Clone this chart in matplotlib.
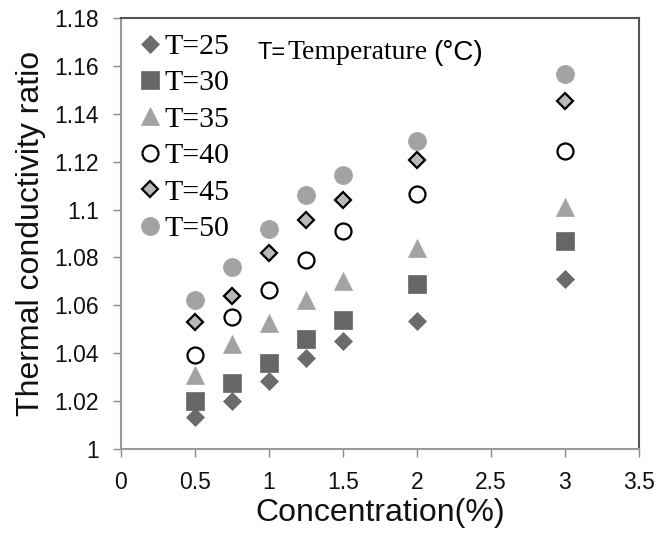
import numpy as np
import matplotlib
matplotlib.use("Agg")
import matplotlib.pyplot as plt
from matplotlib.ticker import FuncFormatter

# datos
conc = [0.5, 0.75, 1.0, 1.25, 1.5, 2.0, 3.0]
t25 = [1.0134, 1.020, 1.0284, 1.038, 1.045, 1.0535, 1.071]
t30 = [1.020, 1.0276, 1.036, 1.046, 1.054, 1.069, 1.087]
t35 = [1.031, 1.044, 1.0526, 1.062, 1.070, 1.084, 1.101]
t40 = [1.039, 1.055, 1.0664, 1.079, 1.091, 1.1065, 1.1245]
t45 = [1.053, 1.064, 1.082, 1.0957, 1.104, 1.1207, 1.1454]
t50 = [1.062, 1.076, 1.092, 1.106, 1.1145, 1.1287, 1.1566]
etiquetas = ["T=25", "T=30", "T=35", "T=40", "T=45", "T=50"]

series = [t25, t30, t35, t40, t45, t50]
estilos = [
    dict(marker="D", ms=9, mfc="#6b6b6b", mec="#6b6b6b", mew=0.5),
    dict(marker="s", ms=12.5, mfc="#666666", mec="#666666", mew=0.5),
    dict(marker="^", ms=13, mfc="#a3a3a3", mec="#a3a3a3", mew=0.5),
    dict(marker="o", ms=11.5, mfc="white", mec="black", mew=1.6),
    dict(marker="D", ms=8.5, mfc="#b8b8b8", mec="black", mew=1.6),
    dict(marker="o", ms=13, mfc="#a3a3a3", mec="#a3a3a3", mew=0.5),
]

fig = plt.figure(figsize=(6.64, 5.33), dpi=100)
ax = fig.add_axes([0.182, 0.158, 0.780, 0.808])

for y, lab, st in zip(series, etiquetas, estilos):
    ax.plot(conc, y, linestyle="none", label=lab, **st)

ax.set_xlim(0, 3.5)
ax.set_ylim(1.0, 1.18)
ax.set_xticks(np.arange(0, 3.51, 0.5))
ax.set_yticks(np.arange(1.0, 1.181, 0.02))
ax.xaxis.set_major_formatter(FuncFormatter(lambda v, p: "%g" % round(v, 2)))
ax.yaxis.set_major_formatter(FuncFormatter(lambda v, p: "%g" % round(v, 2)))
for lbl in ax.get_xticklabels() + ax.get_yticklabels():
    lbl.set_family("Liberation Sans")
ax.tick_params(labelsize=16.5, length=6, width=1, color="#888888", labelcolor="#111111", pad=10)
for s in ax.spines.values():
    s.set_color("#555555")
    s.set_linewidth(1.5)
ax.spines["left"].set_color("#999999")
ax.spines["bottom"].set_color("#999999")

ax.set_xlabel("Concentration(%)", fontsize=23, family="Liberation Sans", color="#111111", labelpad=3)
ax.set_ylabel("Thermal conductivity ratio", fontsize=23, family="Liberation Sans", color="#111111", labelpad=6)

leg = ax.legend(loc="upper left", frameon=False, prop={"family": "Liberation Serif", "size": 21.5},
                handlelength=0.6, handletextpad=0.2, labelspacing=0.32,
                borderaxespad=0.1, bbox_to_anchor=(0.01, 1.0))

t1 = ax.text(0.925, 1.1655, "T=", fontsize=17, family="Liberation Sans", va="center", ha="left")
t2 = ax.annotate("Temperature", xy=(1, 0.5), xycoords=t1, xytext=(1, 0), textcoords="offset points",
                 fontsize=20, family="Liberation Serif", va="center", ha="left")
ax.annotate("(\u00b0C)", xy=(1, 0.5), xycoords=t2, xytext=(4, 0), textcoords="offset points",
            fontsize=20, family="Liberation Sans", va="center", ha="left")

fig.savefig("out.png", dpi=100)
